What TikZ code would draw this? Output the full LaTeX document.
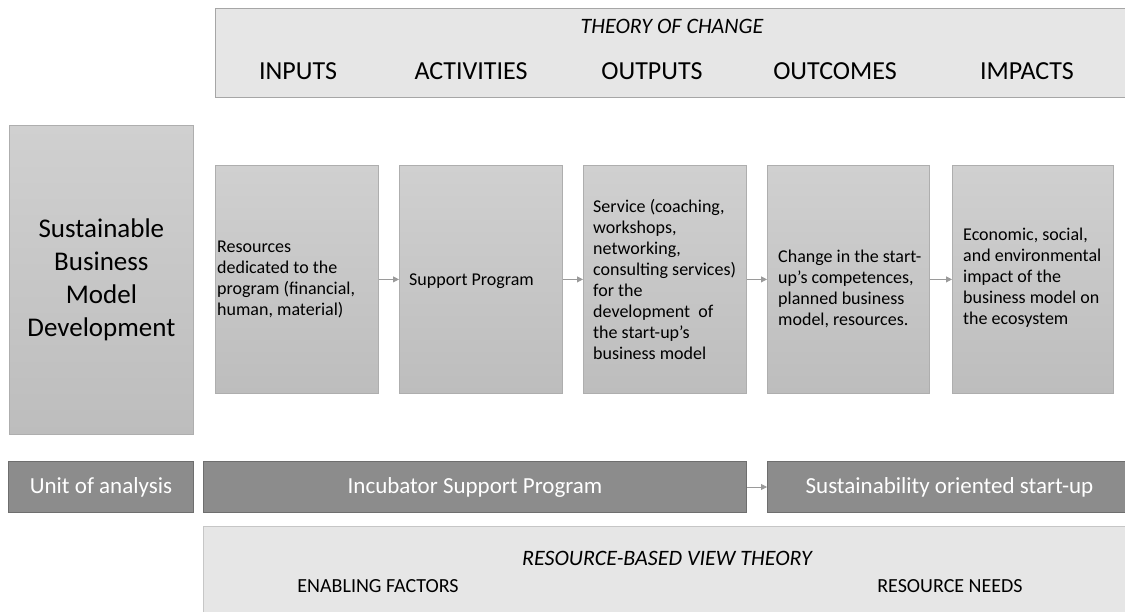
\documentclass[tikz,border=0pt]{standalone}
\usepackage{fontspec}
\setmainfont{Carlito}
\usetikzlibrary{arrows.meta}
\definecolor{hdrfill}{HTML}{E6E6E6}
\definecolor{hdrdraw}{HTML}{A6A6A6}
\definecolor{boxtop}{HTML}{D0D0D0}
\definecolor{boxbot}{HTML}{BDBDBD}
\definecolor{boxdraw}{HTML}{AEAEAE}
\definecolor{unitfill}{HTML}{8C8C8C}
\definecolor{unitdraw}{HTML}{6E6E6E}
\definecolor{arrowcol}{HTML}{9A9A9A}
\definecolor{rbvdraw}{HTML}{C6C6C6}
\tikzset{
  hdrbox/.style={draw=hdrdraw, fill=hdrfill, line width=1pt, inner sep=0pt, anchor=north west},
  rbvbox/.style={draw=rbvdraw, fill=hdrfill, line width=1pt, inner sep=0pt, anchor=north west},
  midbox/.style={draw=boxdraw, top color=boxtop, bottom color=boxbot, line width=0.8pt, inner sep=0pt, anchor=north west},
  unitbox/.style={draw=unitdraw, fill=unitfill, line width=1pt, inner sep=0pt, anchor=north west,
     text=white, font=\fontsize{23}{28}\selectfont},
  colhead/.style={anchor=base, font=\fontsize{26}{31}\selectfont},
  titletext/.style={anchor=base, font=\fontsize{22}{26}\selectfont\itshape},
  subhead/.style={anchor=base, font=\fontsize{20}{24}\selectfont},
  boxtext/.style={anchor=west, align=left, inner sep=0pt, font=\fontsize{18}{21}\selectfont},
  conn/.style={draw=arrowcol, line width=0.8pt, -{Triangle[length=6pt,width=6pt]}}
}
\begin{document}
\begin{tikzpicture}[x=1pt,y=-1pt]
\useasboundingbox (0,0) rectangle (1125,612);
% Theory of change header
\node[hdrbox, minimum width=940pt, minimum height=89pt] (toc) at (215,8) {};
\node[titletext] (toctitle) at (672,34) {THEORY OF CHANGE};
\node[colhead] (hin) at (298,80) {INPUTS};
\node[colhead] (hact) at (471,80) {ACTIVITIES};
\node[colhead] (hout) at (652,80) {OUTPUTS};
\node[colhead] (hoc) at (835,80) {OUTCOMES};
\node[colhead] (himp) at (1027,80) {IMPACTS};
% left box
\node[midbox, minimum width=184pt, minimum height=309pt] (sbmd) at (9,125) {};
\node[align=center, font=\fontsize{27}{33}\selectfont, inner sep=0pt] (sbmdt) at (sbmd.center)
  {Sustainable\\Business\\Model\\Development};
% chain boxes
\node[midbox, minimum width=163pt, minimum height=228pt] (b1) at (215,165) {};
\node[midbox, minimum width=163pt, minimum height=228pt] (b2) at (399,165) {};
\node[midbox, minimum width=163pt, minimum height=228pt] (b3) at (583,165) {};
\node[midbox, minimum width=162pt, minimum height=228pt] (b4) at (767,165) {};
\node[midbox, minimum width=161pt, minimum height=228pt] (b5) at (952,165) {};
\node[boxtext, xshift=2pt] (t1) at (b1.west) {Resources\\dedicated to the\\program (financial,\\human, material)};
\node[boxtext, xshift=10pt, yshift=-2pt] (t2) at (b2.west) {Support Program};
\node[boxtext, xshift=10pt] (t3) at (b3.west) {Service (coaching,\\workshops,\\networking,\\consulting services)\\for the\\development~ of\\the start-up’s\\business model};
\node[boxtext, xshift=11pt, yshift=-10pt] (t4) at (b4.west) {Change in the start-\\up’s competences,\\planned business\\model, resources.};
\node[boxtext, xshift=11pt, yshift=2pt] (t5) at (b5.west) {Economic, social,\\and environmental\\impact of the\\business model on\\the ecosystem};
\draw[conn] (b1.east) -- (b2.west);
\draw[conn] (b2.east) -- (b3.west);
\draw[conn] (b3.east) -- (b4.west);
\draw[conn] (b4.east) -- (b5.west);
% unit of analysis row
\node[unitbox, minimum width=185pt, minimum height=51pt] (unit) at (8,461) {Unit of analysis};
\node[unitbox, minimum width=543pt, minimum height=51pt] (isp) at (203,461) {Incubator Support Program};
\node[unitbox, minimum width=364pt, minimum height=51pt] (sos) at (767,461) {Sustainability oriented start-up};
\draw[conn] (isp.east) -- (sos.west);
% resource-based view
\node[rbvbox, minimum width=950pt, minimum height=100pt] (rbv) at (203,526) {};
\node[titletext] (rbvtitle) at (667,565) {RESOURCE-BASED VIEW THEORY};
\node[subhead] (enab) at (378,592) {ENABLING FACTORS};
\node[subhead] (needs) at (950,592) {RESOURCE NEEDS};
\end{tikzpicture}
\end{document}
